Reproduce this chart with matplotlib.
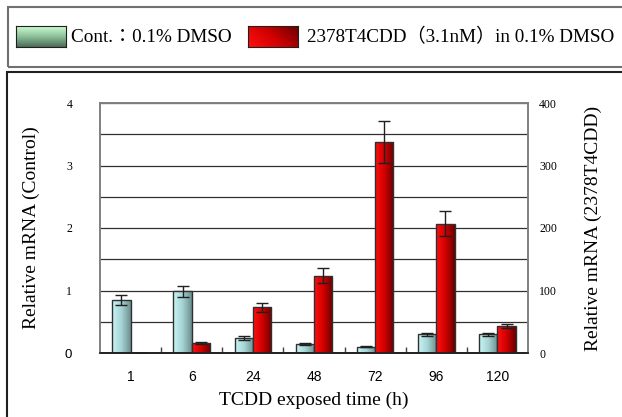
import numpy as np
import matplotlib
matplotlib.use("Agg")
import matplotlib.pyplot as plt
from matplotlib.patches import Rectangle
from matplotlib.colors import LinearSegmentedColormap

hours = ["1", "6", "24", "48", "72", "96", "120"]
control = [0.85, 0.99, 0.245, 0.14, 0.10, 0.30, 0.30]
control_err = [0.08, 0.09, 0.03, 0.015, 0.01, 0.025, 0.025]
tcdd = [0.5, 15.5, 73, 124, 338, 207, 43]
tcdd_err = [0, 1.5, 7, 12.5, 34, 20, 3.5]

serif = ["Liberation Serif", "Noto Sans CJK JP", "DejaVu Serif"]
sans = "Liberation Sans"

W, H = 622, 417
fig = plt.figure(figsize=(W / 100, H / 100), dpi=100)

def fx(px):
    return px / W

def fy(py):
    return 1 - py / H

# outer frames
fig.patches.append(Rectangle((fx(8), fy(67)), fx(640 - 8), fy(7) - fy(67), transform=fig.transFigure,
                             fill=False, edgecolor="#707070", lw=1.5))
fig.patches.append(Rectangle((fx(7), fy(440)), fx(640 - 7), fy(72) - fy(440), transform=fig.transFigure,
                             fill=False, edgecolor="#202020", lw=1.5))

cyan_cmap = LinearSegmentedColormap.from_list("cy", ["#c8f4f4", "#a6d4d4", "#6c8e8e"])
red_cmap = LinearSegmentedColormap.from_list("rd", ["#ff1010", "#d00000", "#6a0000"])
green_cmap = LinearSegmentedColormap.from_list("gr", ["#4c6c58", "#8cc09a", "#ccfcd0"])

grad_h = np.linspace(0, 1, 64).reshape(1, -1)


def gradient_bars(axis, bars, cmap):
    for b in bars:
        x0, y0, w, h = b.get_x(), b.get_y(), b.get_width(), b.get_height()
        im = axis.imshow(grad_h, extent=[x0, x0 + w, y0, y0 + h], cmap=cmap,
                         aspect="auto", origin="lower", zorder=b.get_zorder() - 0.05,
                         interpolation="bilinear")
        im.set_clip_path(b)
        b.set_facecolor("none")


ax = fig.add_axes([fx(100), fy(353), fx(528) - fx(100), fy(103) - fy(353)])
ax2 = ax.twinx()

x = np.arange(len(hours))
bw = 0.3
b1 = ax.bar(x - bw / 2, control, bw, edgecolor="#303030", linewidth=1, zorder=2)
ax.errorbar(x - bw / 2, control, yerr=control_err, fmt="none", ecolor="#202020",
            elinewidth=1, capsize=4, capthick=1, zorder=3)
b2 = ax2.bar(x + bw / 2, tcdd, bw, edgecolor="#303030", linewidth=1, zorder=2)
ax2.errorbar(x + bw / 2, tcdd, yerr=tcdd_err, fmt="none", ecolor="#202020",
             elinewidth=1, capsize=4, capthick=1, zorder=3)
gradient_bars(ax, b1, cyan_cmap)
gradient_bars(ax2, b2, red_cmap)

ax.set_xlim(-0.5, len(hours) - 0.5)
ax.set_ylim(0, 4)
ax2.set_ylim(0, 400)

ax.set_yticks([0, 1, 2, 3, 4])
ax.set_yticks(np.arange(0, 4.01, 0.5), minor=True)
ax.grid(True, which="both", axis="y", color="#303030", lw=0.9)
ax.set_axisbelow(True)
ax.tick_params(axis="y", which="both", length=0, pad=20)
ax.set_yticklabels(["0", "1", "2", "3", "4"])
for i, t in enumerate(ax.get_yticklabels()):
    if i == 0:
        t.set_fontfamily(sans)
        t.set_fontsize(9.5)
    else:
        t.set_fontfamily("Liberation Serif")
        t.set_fontsize(8.5)

ax2.set_yticks([0, 100, 200, 300, 400])
ax2.tick_params(axis="y", length=0, pad=8, labelsize=8.5)
for t in ax2.get_yticklabels():
    t.set_fontfamily("Liberation Serif")

ax.set_xticks(x)
ax.set_xticklabels(hours, fontfamily=sans, fontsize=10)
ax.set_xticks(x[:-1] + 0.5, minor=True)
ax.tick_params(axis="x", which="major", length=0, pad=12)
ax.tick_params(axis="x", which="minor", direction="in", length=4, width=1, color="#404040")

for a in (ax, ax2):
    for s in ("left", "top", "right"):
        a.spines[s].set_color("#808080")
        a.spines[s].set_linewidth(1.2)
    a.spines["bottom"].set_color("#202020")
    a.spines["bottom"].set_linewidth(1.2)

ax.set_ylabel("Relative mRNA (Control)", fontfamily="Liberation Serif", fontsize=14, labelpad=18)
ax2.set_ylabel("Relative mRNA (2378T4CDD)", fontfamily="Liberation Serif", fontsize=14, labelpad=20)
ax.set_xlabel("TCDD exposed time (h)", fontfamily="Liberation Serif", fontsize=14, labelpad=6)

# legend
la = fig.add_axes([fx(16), fy(47), fx(50), fy(26) - fy(47)])
la.imshow(np.linspace(0, 1, 32).reshape(-1, 1), cmap=green_cmap, aspect="auto", origin="lower",
          extent=[0, 1, 0, 1], interpolation="bilinear")
la.set_xticks([]); la.set_yticks([])
for s in la.spines.values():
    s.set_color("#202020")

lb = fig.add_axes([fx(248), fy(47), fx(50), fy(26) - fy(47)])
gx, gy = np.meshgrid(np.linspace(0, 1, 32), np.linspace(0, 1, 32))
lb.imshow((gx * 0.7 + gy * 0.3), cmap=red_cmap, aspect="auto", origin="lower",
          extent=[0, 1, 0, 1], interpolation="bilinear")
lb.set_xticks([]); lb.set_yticks([])
for s in lb.spines.values():
    s.set_color("#202020")

fig.text(fx(71), fy(37), "Cont.：0.1% DMSO", family=serif, fontsize=13.8, va="center")
fig.text(fx(307), fy(37), "2378T4CDD（3.1nM）in 0.1% DMSO", family=serif, fontsize=13.8, va="center")

fig.savefig("out.png", dpi=100)
